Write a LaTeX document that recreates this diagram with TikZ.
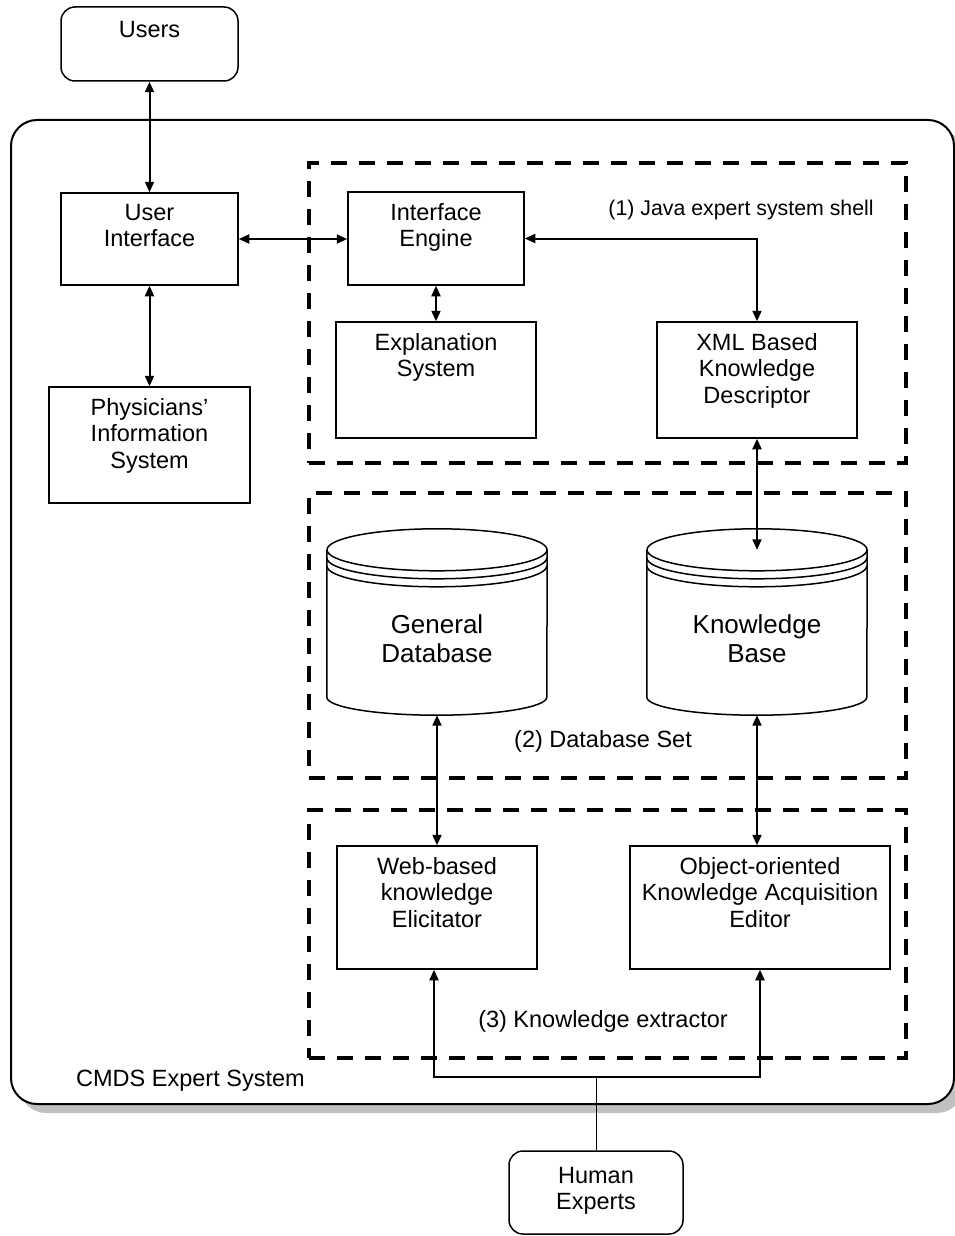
\documentclass[tikz,border=0pt]{standalone}
\usepackage{fontspec}
\setmainfont{Liberation Sans}
\usetikzlibrary{arrows.meta,calc,shadows}
\newcommand{\mainsz}{\fontsize{23.5}{26.8}\selectfont}
\newcommand{\dbsz}{\fontsize{26}{29.5}\selectfont}
\newcommand{\notesz}{\fontsize{21.3}{25}\selectfont}
\definecolor{shadowgray}{RGB}{192,192,192}
\begin{document}
\begin{tikzpicture}[x=1pt,y=-1pt,
  box/.style={draw, line width=1.5pt, inner sep=0pt, fill=white},
  rbox/.style={box, rounded corners=14pt},
  group/.style={draw, line width=3.5pt, dash pattern=on 16pt off 12pt, inner sep=0pt},
  txt/.style={anchor=north, inner sep=0pt, align=center, font=\mainsz, yshift=18.8pt},
  dbtxt/.style={anchor=north, inner sep=0pt, align=center, font=\dbsz, yshift=20.65pt},
  note/.style={anchor=north, inner sep=0pt, align=center, font=\notesz, yshift=17.5pt},
  tip/.tip={Triangle[length=10.5pt,width=9pt]},
  link/.style={line width=2pt, tip-tip},
  feed/.style={line width=2pt, -tip},
  cyl/.style={line width=1.5pt}
]
\useasboundingbox (0,0) rectangle (955,1236);

% outer system container with its shadow
\node[draw, line width=2pt, fill=white, rounded corners=26pt, inner sep=0pt,
      minimum width=943, minimum height=984,
      drop shadow={shadow xshift=9pt, shadow yshift=-9pt, fill=shadowgray, opacity=1}]
      (cmds) at (482.5,612) {};
\node[anchor=north west, inner sep=0pt, font=\mainsz, yshift=18.8pt] (cmdslbl) at (76,1086) {\strut CMDS Expert System};

% dashed subsystem groups
\node[group, minimum width=597, minimum height=300] (grp1) at (607.5,313) {};
\node[group, minimum width=597, minimum height=285] (grp2) at (607.5,635.5) {};
\node[group, minimum width=597, minimum height=248] (grp3) at (607.5,934) {};
\node[note] (grp1lbl) at (741,215) {\strut (1) Java expert system shell};
\node[txt] (grp2lbl) at (603,747) {\strut (2) Database Set};
\node[txt] (grp3lbl) at (603,1027) {\strut (3) Knowledge extractor};

% external actors
\node[rbox, minimum width=177, minimum height=74] (users) at (149.5,44) {};
\node[txt] (userst) at (149.5,37) {\strut Users};
\node[rbox, minimum width=174, minimum height=83] (human) at (596,1192.5) {};
\node[txt] (humant) at (596,1183) {\strut Human\\Experts};

% components
\node[box, minimum width=177, minimum height=92] (ui) at (149.5,239) {};
\node[txt] (uit) at (149.5,220) {\strut User\\Interface};
\node[box, minimum width=201, minimum height=116] (pis) at (149.5,445) {};
\node[txt] (pist) at (149.5,415) {\strut Physicians’\\Information\\System};
\node[box, minimum width=176, minimum height=93] (ie) at (436,238.5) {};
\node[txt] (iet) at (436,220) {\strut Interface\\Engine};
\node[box, minimum width=200, minimum height=116] (es) at (436,380) {};
\node[txt] (est) at (436,350) {\strut Explanation\\System};
\node[box, minimum width=200, minimum height=116] (xml) at (757,380) {};
\node[txt] (xmlt) at (757,350) {\strut XML Based\\Knowledge\\Descriptor};
\node[box, minimum width=200, minimum height=123] (web) at (437,907.5) {};
\node[txt] (webt) at (437,874) {\strut Web-based\\knowledge\\Elicitator};
\node[box, minimum width=260, minimum height=123] (oo) at (760,907.5) {};
\node[txt] (oot) at (760,874) {\strut Object-oriented\\Knowledge Acquisition\\Editor};

% databases drawn as stacked-disc cylinders
\node[inner sep=0pt, minimum width=220, minimum height=186] (gd) at (437,622) {};
\node[inner sep=0pt, minimum width=220, minimum height=186] (kb) at (757,622) {};
\foreach \c in {gd,kb}{
  \draw[cyl, fill=white] ($(\c.north west)+(0,21)$) -- ($(\c.south west)+(0,-18)$)
     arc[start angle=180, end angle=0, x radius=110, y radius=18]
     -- ($(\c.north east)+(0,21)$);
  \draw[cyl] ($(\c.north)+(0,21)$) ellipse [x radius=110, y radius=21];
  \draw[cyl] ($(\c.north west)+(0,29)$) arc[start angle=180, end angle=0, x radius=110, y radius=21];
  \draw[cyl] ($(\c.north west)+(0,37)$) arc[start angle=180, end angle=0, x radius=110, y radius=21];
}
\node[dbtxt] (gdt) at (437,633) {\strut General\\Database};
\node[dbtxt] (kbt) at (757,633) {\strut Knowledge\\Base};
\coordinate (kbtop) at ($(kb.north)+(0,21)$);

% connectors
\draw[link] (users) -- (ui);
\draw[link] (ui) -- (pis);
\draw[link] (ui.east) -- (ie.west |- ui.east);
\draw[link] (ie) -- (es);
\draw[link] (ie.east) -| (xml.north);
\draw[link] (xml.south) -- (kbtop);
\draw[link] (gd.south) -- (gd.south |- web.north);
\draw[link] (kb.south) -- (kb.south |- oo.north);

\coordinate (split) at (596,1077);
\draw[line width=1pt] (human.north) -- (split);
\draw[feed] (split) -| ($(web.south)+(-3,0)$);
\draw[feed] (split) -| (oo.south);
\end{tikzpicture}
\end{document}
